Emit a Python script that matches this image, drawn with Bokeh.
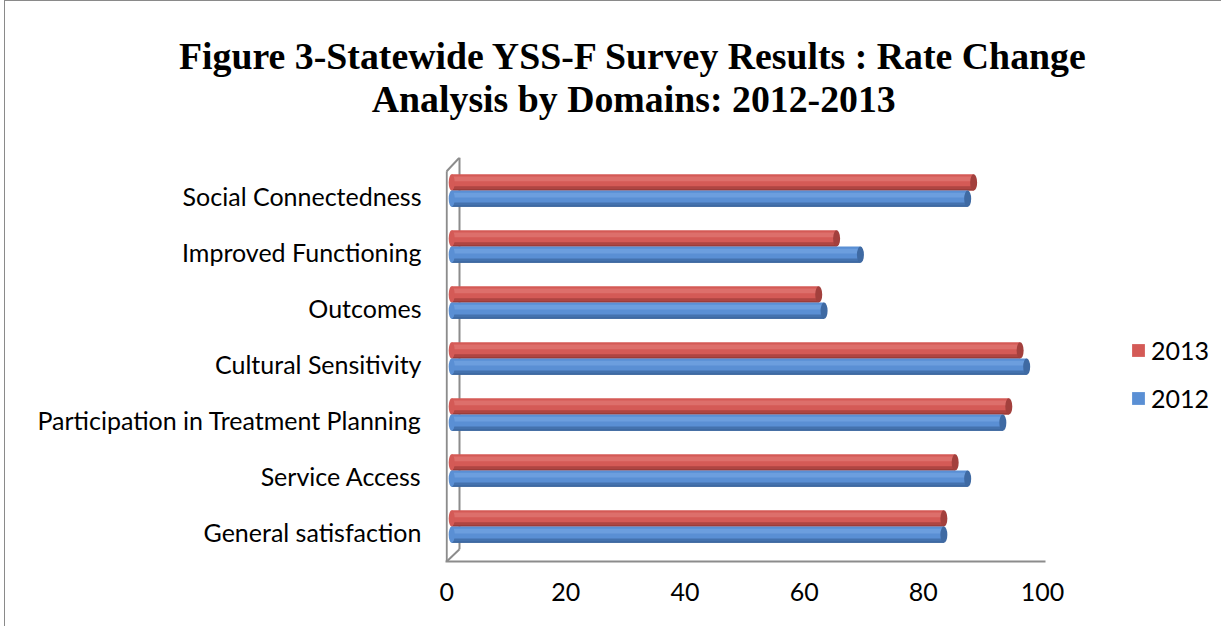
import numpy as np
from bokeh.plotting import figure
from bokeh.layouts import column, row
from bokeh.models import Range1d, FixedTicker, Label, Legend, LegendItem
from bokeh.embed import file_html
from bokeh.resources import INLINE

# ---- data ----
categories = ["General satisfaction", "Service Access", "Participation in Treatment Planning",
              "Cultural Sensitivity", "Outcomes", "Improved Functioning", "Social Connectedness"]
values_2012 = [82.6, 86.6, 92.5, 96.5, 62.5, 68.6, 86.6]
values_2013 = [82.6, 84.5, 93.5, 95.4, 61.6, 64.6, 87.6]
series_names = ["2013", "2012"]
x_ticks = [0, 20, 40, 60, 80, 100]
title_lines = ["Figure 3-Statewide  YSS-F Survey Results : Rate Change",
               "Analysis by  Domains: 2012-2013"]

# ---- styling constants ----
LABEL_FONT = "Lato"
DEPTH = 0.84     # 3D depth shift of bar start
H = 0.29         # bar thickness (category units)
RED = dict(base="#D45A56", light="#DD6F6B", dark="#AE4542", edge="#8F3633", cap="#A3403D")
BLUE = dict(base="#5A8FD4", light="#6C9EDE", dark="#4472AE", edge="#345C92", cap="#3F6AA3")

TOTAL_W, TOP_H, MAIN_H, MAIN_W = 1216, 130, 495, 1095
LEG_W = TOTAL_W - MAIN_W


def blank(fig):
    fig.outline_line_color = None
    fig.background_fill_color = "white"
    fig.border_fill_color = "white"
    fig.xgrid.visible = False
    fig.ygrid.visible = False


# ---- title strip ----
tf = figure(width=TOTAL_W, height=TOP_H, x_range=Range1d(0, TOTAL_W), y_range=Range1d(TOP_H, 0),
            output_backend="svg", toolbar_location=None, x_axis_type=None, y_axis_type=None,
            min_border=0)
blank(tf)
for txt, ty in zip(title_lines, [54, 97]):
    tf.add_layout(Label(x=633, y=ty, text=txt, text_font="Liberation Serif", text_font_style="bold",
                        text_font_size="37.8px", text_align="center", text_baseline="middle",
                        text_color="black"))

# ---- main chart ----
p = figure(width=MAIN_W, height=MAIN_H, x_range=Range1d(-0.2, 100.5), y_range=Range1d(-0.518, 6.696),
           output_backend="svg", toolbar_location=None, title=None,
           min_border_left=440, min_border_right=55, min_border_top=26, min_border_bottom=65)
blank(p)

pos = np.arange(len(categories))

# 3D wall edges
p.multi_line(xs=[[0, 0], [2.15, 2.15], [0, 2.15], [0, 2.15]],
             ys=[[-0.518, 6.45], [-0.30, 6.696], [6.45, 6.696], [-0.518, -0.30]],
             line_color="#8c8c8c", line_width=2)


def cylinder(vals, offset, c):
    y = pos + offset
    r = np.array(vals) + DEPTH
    p.hbar(y=y, left=DEPTH, right=r, height=H, fill_color=c["base"], line_color=None)
    p.hbar(y=y + H * 0.22, left=DEPTH, right=r, height=H * 0.30, fill_color=c["light"], line_color=None)
    p.hbar(y=y - H * 0.33, left=DEPTH, right=r, height=H * 0.20, fill_color=c["dark"], line_color=None)
    p.hbar(y=y - H * 0.46, left=DEPTH, right=r, height=H * 0.08, fill_color=c["edge"], line_color=None)
    p.ellipse(x=DEPTH, y=y, width=6, width_units="screen", height=H, fill_color=c["base"], line_color=None)
    p.ellipse(x=r, y=y, width=7, width_units="screen", height=H, fill_color=c["cap"], line_color=None)


cylinder(values_2013, 0.25, RED)
cylinder(values_2012, -0.04, BLUE)

p.xaxis.ticker = FixedTicker(ticks=x_ticks)
p.xaxis.axis_line_color = "#8c8c8c"
p.xaxis.axis_line_width = 2
p.xaxis.major_tick_out = 0
p.xaxis.major_tick_in = 0
p.xaxis.minor_tick_line_color = None
p.xaxis.major_label_standoff = 21
p.xaxis.major_label_text_font = LABEL_FONT
p.xaxis.major_label_text_font_size = "25px"
p.xaxis.major_label_text_color = "black"

p.yaxis.ticker = FixedTicker(ticks=list(pos))
p.yaxis.major_label_overrides = {int(i): c for i, c in zip(pos, categories)}
p.yaxis.axis_line_color = None
p.yaxis.major_tick_line_color = None
p.yaxis.minor_tick_line_color = None
p.yaxis.major_tick_out = 0
p.yaxis.major_label_standoff = 24
p.yaxis.major_label_text_font = LABEL_FONT
p.yaxis.major_label_text_font_size = "25px"
p.yaxis.major_label_text_color = "black"

# ---- legend strip (key renderers sit outside the visible range) ----
lf = figure(width=LEG_W, height=MAIN_H, x_range=Range1d(0, 1), y_range=Range1d(0, 1),
            output_backend="svg", toolbar_location=None, x_axis_type=None, y_axis_type=None,
            min_border=0)
blank(lf)
k13 = lf.hbar(y=[5], left=[5], right=[6], height=0.1, fill_color=RED["base"], line_color=None)
k12 = lf.hbar(y=[5], left=[5], right=[6], height=0.1, fill_color=BLUE["base"], line_color=None)
lg = Legend(items=[LegendItem(label=series_names[0], renderers=[k13]),
                   LegendItem(label=series_names[1], renderers=[k12])],
            location=(30, 148), padding=0, margin=0, spacing=18, glyph_width=16, glyph_height=16,
            label_height=30, label_standoff=5, label_text_font=LABEL_FONT,
            label_text_font_size="25px", label_text_color="black",
            border_line_color=None, background_fill_alpha=0)
lf.add_layout(lg, "center")

layout = column(tf, row(p, lf, spacing=0), spacing=0)
layout.styles = {"margin-left": "4px", "border-left": "1px solid #8a8a8a",
                 "border-top": "1px solid #8a8a8a"}

open("out.html", "w").write(file_html(layout, INLINE))
